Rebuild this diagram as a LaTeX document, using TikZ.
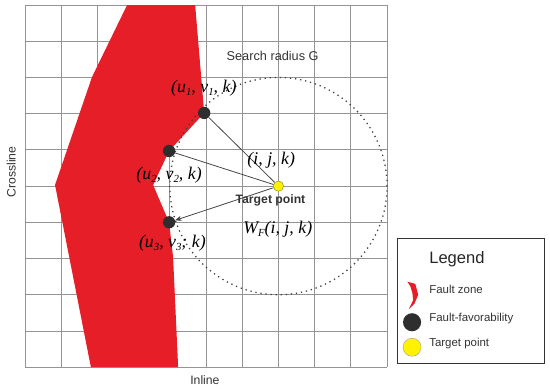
\documentclass[tikz,border=0pt]{standalone}
\usepackage{fontspec}
\setmainfont{Liberation Sans}
\newfontfamily\tms{Liberation Serif}
\usetikzlibrary{arrows.meta}
\newcommand{\sbs}[1]{\raisebox{-0.35ex}{\fontsize{8.5}{9}\selectfont #1}}
\tikzset{
  gridline/.style={draw=black!42, line width=0.65pt},
  faultfill/.style={draw=none},
  favdot/.style={circle, fill=black!82, draw=none, minimum size=0.34cm, inner sep=0pt},
  tgtdot/.style={circle, fill=yellow, draw=black!50!yellow, line width=0.3pt, minimum size=0.28cm, inner sep=0pt},
  conn/.style={draw=black!75, line width=0.6pt},
  mlabel/.style={font=\tms\fontsize{14}{14}\selectfont\itshape, inner sep=0pt},
  slabel/.style={font=\fontsize{9.6}{10}\selectfont, text=black!80, inner sep=0pt},
  leglabel/.style={font=\fontsize{9}{10}\selectfont, text=black!80, inner sep=0pt, anchor=west},
}
\begin{document}
\begin{tikzpicture}
\useasboundingbox (-0.69,-0.58) rectangle (14.50,10.14);
% grid
\foreach \i in {0,...,10} {
  \draw[gridline] (\i,0) -- (\i,10);
  \draw[gridline] (0,\i) -- (10,\i);
}
% fault zone
\fill[faultfill, fill={rgb,255:red,230;green,30;blue,40}]
  (2.82,10) -- (4.70,10) -- (4.95,7.02) -- (3.98,5.97) -- (3.54,5.03)
  -- (3.98,4.0) -- (4.09,3.04) -- (4.23,0) -- (1.82,0) -- (0.83,5.03)
  -- (1.85,8.01) -- cycle;
% search circle
\coordinate (c) at (7,5);
\draw[black!75, line width=1pt, dash pattern=on 1pt off 3pt] (c) circle (3);
% points
\node[favdot] (u1) at (4.95,7.02) {};
\node[favdot] (u2) at (3.98,5.97) {};
\node[favdot] (u3) at (3.98,4.0) {};
\node[tgtdot] (t) at (7,5) {};
% connectors
\draw[conn] (t) -- (u1);
\draw[conn] (t) -- (u2);
\draw[conn, -{Stealth[length=5pt,width=4pt]}] (t) -- (u3);
\node[tgtdot] at (t) {};
% labels
\node[mlabel] (l1) at (4.94,7.71) {(u\sbs{1}, v\sbs{1}, k)};
\node[mlabel] (l2) at (3.98,5.30) {(u\sbs{2}, v\sbs{2}, k)};
\node[mlabel] (l3) at (4.07,3.43) {(u\sbs{3}, v\sbs{3}; k)};
\node[mlabel] (lt) at (6.80,5.72) {(i, j, k)};
\node[mlabel] (lw) at (6.98,3.81) {W\sbs{F}(i, j, k)};
\node[slabel, font=\bfseries\fontsize{9.6}{10}\selectfont] (tp) at (6.78,4.61) {Target point};
\node[slabel, font=\fontsize{10}{10}\selectfont] (sr) at (6.84,8.59) {Search radius G};
\node[slabel, rotate=90] (cl) at (-0.38,5.39) {Crossline};
\node[slabel] (il) at (4.97,-0.36) {Inline};
% legend
\draw[black!80, line width=0.8pt] (10.28,0.11) rectangle (14.36,3.54);
\node[font=\fontsize{13}{13}\selectfont, text=black!85, inner sep=0pt] (lg) at (11.93,2.98) {Legend};
\fill[fill={rgb,255:red,230;green,30;blue,40}]
  (10.56,2.36) -- (10.78,2.30) -- (10.86,2.0) -- (10.76,1.76) -- (10.60,1.60)
  -- (10.72,1.85) -- (10.70,2.05) -- (10.64,2.24) -- cycle;
\node[leglabel] (lf) at (11.16,2.15) {Fault zone};
\node[circle, fill=black!82, minimum size=0.5cm, inner sep=0pt] (lb) at (10.69,1.24) {};
\node[leglabel] (lfv) at (11.16,1.35) {Fault-favorability};
\node[circle, fill=yellow, draw=black!40, line width=0.3pt, minimum size=0.5cm, inner sep=0pt] (ly) at (10.69,0.55) {};
\node[leglabel] (ltp) at (11.16,0.66) {Target point};
\end{tikzpicture}
\end{document}
